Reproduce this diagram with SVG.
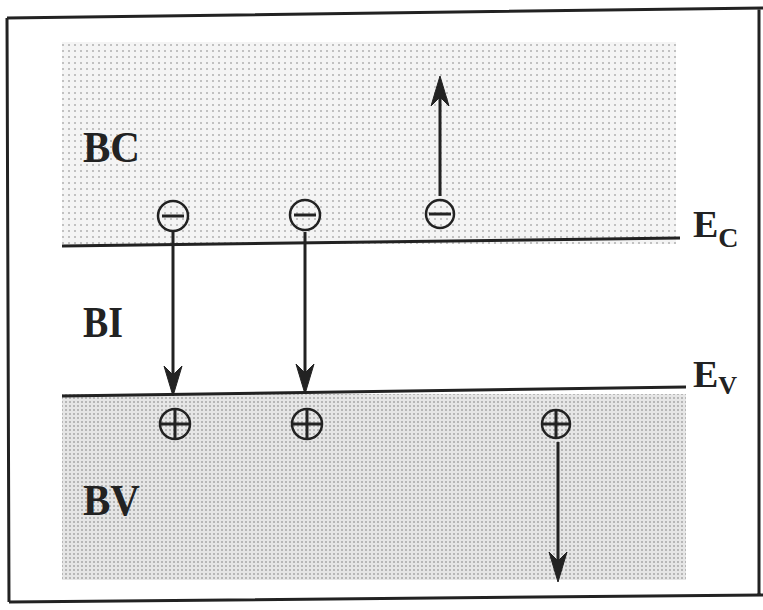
<svg xmlns="http://www.w3.org/2000/svg" width="763" height="610" viewBox="0 0 763 610">
<defs>
<pattern id="dotsC" width="6" height="6" patternUnits="userSpaceOnUse">
<rect width="6" height="6" fill="#f4f4f4"/>
<circle cx="3" cy="3" r="1" fill="#b0b0b0"/>
</pattern>
<pattern id="dotsV" width="4" height="4" patternUnits="userSpaceOnUse">
<rect width="4" height="4" fill="#e6e6e6"/>
<circle cx="2" cy="2" r="1" fill="#a8a8a8"/>
</pattern>
<style>
.lbl{font-family:"Liberation Serif","Times New Roman",serif;font-weight:bold;fill:#222}
.ln{stroke:#222;stroke-width:3;fill:none}
.circ{fill:none;stroke:#222;stroke-width:2.5}
.arr{stroke:#222;stroke-width:3;fill:none}
.head{fill:#222;stroke:#222;stroke-width:1}
</style>
</defs>
<rect x="0" y="0" width="763" height="610" fill="#fff"/>
<path d="M7,18 L763,8 M7,18 L9,602 M9,602 L763,595 M759,8 L759,596" class="ln"/>
<rect id="bc" x="62" y="42" width="614" height="202" fill="url(#dotsC)"/>
<rect id="bv" x="62" y="394" width="624" height="186" fill="url(#dotsV)"/>
<g id="levels">
<path d="M62,246 L680,238" class="ln"/>
<path d="M62,396 L686,387" class="ln"/>
</g>
<g id="labels">
<text class="lbl" x="83" y="162" font-size="44" textLength="57" lengthAdjust="spacingAndGlyphs">BC</text>
<text class="lbl" x="83" y="337" font-size="44" textLength="40" lengthAdjust="spacingAndGlyphs">BI</text>
<text class="lbl" x="83" y="515" font-size="44" textLength="57" lengthAdjust="spacingAndGlyphs">BV</text>
<text class="lbl" x="693" y="237" font-size="38">E<tspan font-size="28" dy="10">C</tspan></text>
<text class="lbl" x="693" y="387" font-size="38">E<tspan font-size="26" dy="7">V</tspan></text>
</g>
<g id="electrons">
<g id="e1"><circle cx="173" cy="216" r="15" class="circ"/><line x1="162" y1="216" x2="184" y2="216" class="ln"/></g>
<g id="e2"><circle cx="305" cy="215" r="15" class="circ"/><line x1="294" y1="215" x2="316" y2="215" class="ln"/></g>
<g id="e3"><circle cx="440" cy="214" r="14" class="circ"/><line x1="429" y1="214" x2="451" y2="214" class="ln"/></g>
</g>
<g id="holes">
<g id="h1"><circle cx="175" cy="424" r="15" class="circ"/><path d="M161,424 H189 M175,410 V438" class="ln" stroke-width="2.5"/></g>
<g id="h2"><circle cx="307" cy="424" r="15" class="circ"/><path d="M293,424 H321 M307,410 V438" class="ln" stroke-width="2.5"/></g>
<g id="h3"><circle cx="556" cy="424" r="14" class="circ"/><path d="M543,424 H569 M556,411 V437" class="ln" stroke-width="2.5"/></g>
</g>
<g id="connectors">
<line x1="173" y1="232" x2="173" y2="380" class="arr"/>
<path class="head" d="M173,396 L164,366 L173,375 L182,366 Z"/>
<line x1="305" y1="232" x2="305" y2="378" class="arr"/>
<path class="head" d="M305,394 L296,364 L305,373 L314,364 Z"/>
<line x1="440" y1="196" x2="440" y2="92" class="arr"/>
<path class="head" d="M440,76 L431,106 L440,97 L449,106 Z"/>
<line x1="558" y1="442" x2="558" y2="566" class="arr"/>
<path class="head" d="M558,582 L549,552 L558,561 L567,552 Z"/>
</g>
</svg>
